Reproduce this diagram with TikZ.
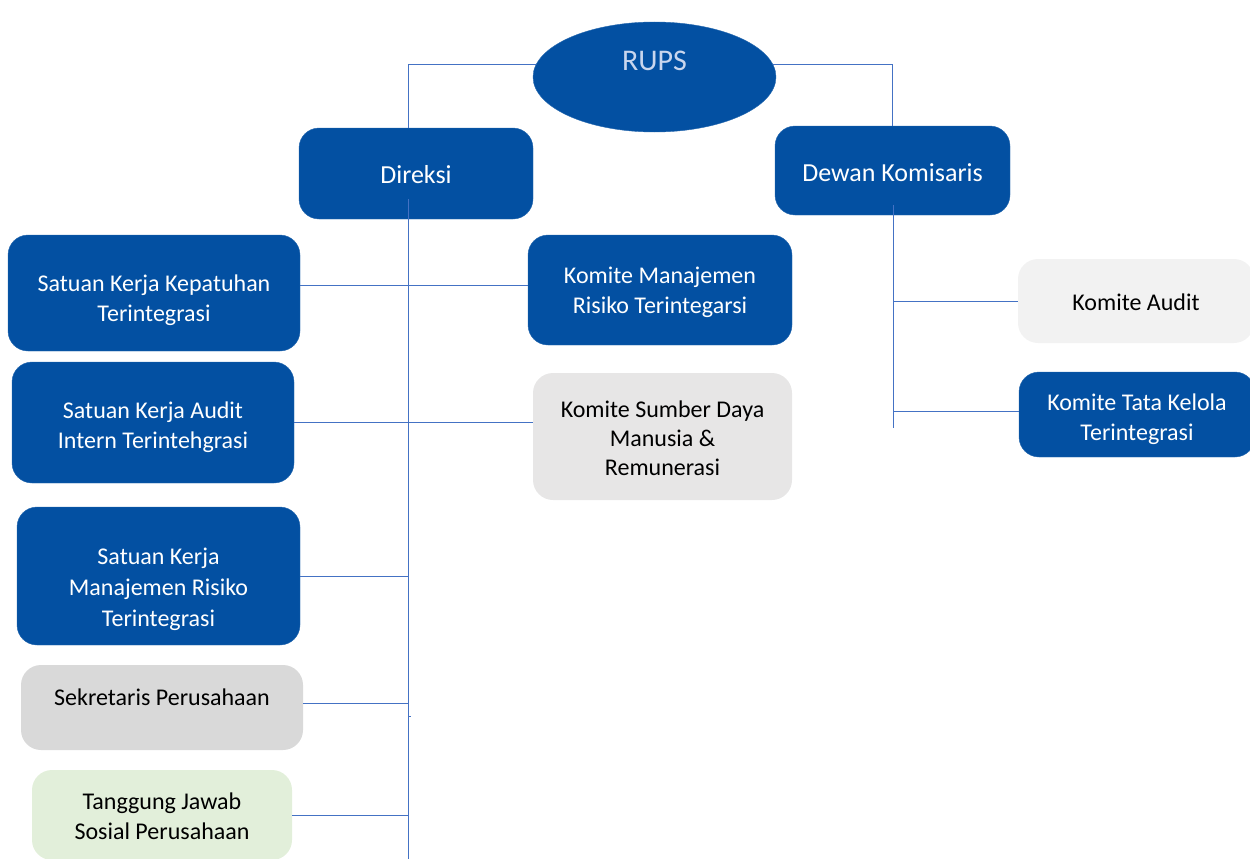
\documentclass[tikz,border=0pt]{standalone}
\usepackage{fontspec}
\setmainfont{Carlito}
\usetikzlibrary{shapes.geometric}
\definecolor{orgblue}{HTML}{0350A2}
\definecolor{linkblue}{HTML}{4472C4}
\definecolor{rupstext}{HTML}{C9D6EE}
\definecolor{sekgrey}{HTML}{D9D9D9}
\definecolor{sdmgrey}{HTML}{E7E6E6}
\definecolor{auditgrey}{HTML}{F2F2F2}
\definecolor{csrgreen}{HTML}{E2EFDA}
% text block moved up/down inside its box
\newcommand{\boxtext}[2]{\raisebox{#1}[0pt][0pt]{\begin{tabular}{@{}c@{}}#2\end{tabular}}}

\begin{document}
\begin{tikzpicture}[x=1pt,y=-1pt,
        box/.style={rectangle, rounded corners=20pt, align=center, inner sep=0pt,
            font=\fontsize{24}{30}\selectfont},
        bluebox/.style={box, fill=orgblue, draw=orgblue!85!white, text=white},
        greybox/.style={box, fill=#1, text=black},
        link/.style={draw=linkblue, line width=1pt}]
    \useasboundingbox (0,0) rectangle (1250,859);

    % top level
    \node[ellipse, fill=orgblue, draw=orgblue!85!white, text=rupstext, minimum width=243,
        minimum height=110, inner sep=0pt, font=\fontsize{30}{30}\selectfont]
        (rups) at (654.5,77) {\boxtext{6.5pt}{RUPS}};
    \node[bluebox, minimum width=234, minimum height=91, font=\fontsize{26}{30}\selectfont]
        (direksi) at (416,173.5) {\boxtext{-10pt}{Direksi}};
    \node[bluebox, minimum width=235, minimum height=89, font=\fontsize{26}{30}\selectfont]
        (dewan) at (892.5,170.5) {\boxtext{-11pt}{Dewan Komisaris}};

    % under Direksi, left
    \node[bluebox, minimum width=292, minimum height=116] (skk) at (154,293)
        {\boxtext{-14pt}{Satuan Kerja Kepatuhan\\Terintegrasi}};
    \node[bluebox, minimum width=282, minimum height=121] (ska) at (153,422.5)
        {\boxtext{-11.5pt}{Satuan Kerja Audit\\Intern Terintehgrasi}};
    \node[bluebox, minimum width=283, minimum height=138, font=\fontsize{24}{31}\selectfont]
        (skmr) at (158.5,576)
        {\boxtext{-20pt}{Satuan Kerja\\Manajemen Risiko\\Terintegrasi}};
    \node[greybox=sekgrey, minimum width=282, minimum height=85] (sek) at (162,707.5)
        {\boxtext{1.5pt}{Sekretaris Perusahaan}};
    \node[greybox=csrgreen, minimum width=260, minimum height=90] (tjsp) at (162,815)
        {\boxtext{-10pt}{Tanggung Jawab\\Sosial Perusahaan}};

    % under Direksi, right
    \node[bluebox, minimum width=264, minimum height=110] (kmr) at (660,290)
        {\boxtext{-9pt}{Komite Manajemen\\Risiko Terintegarsi}};
    \node[greybox=sdmgrey, minimum width=259, minimum height=127, font=\fontsize{24}{29}\selectfont]
        (ksdm) at (662.5,436.5)
        {\boxtext{-10.5pt}{Komite Sumber Daya\\Manusia \&\\Remunerasi}};

    % under Dewan Komisaris
    \node[greybox=auditgrey, minimum width=236, minimum height=84] (kaudit) at (1136,301)
        {\boxtext{-10pt}{Komite Audit}};
    \node[bluebox, minimum width=236, minimum height=85] (ktk) at (1137,414.5)
        {\boxtext{-11.5pt}{Komite Tata Kelola\\Terintegrasi}};

    % connectors
    \coordinate (dtrunk) at (408,199);
    \coordinate (dbase) at (408,859);
    \coordinate (ktrunk) at (893,205);
    \coordinate (kbase) at (893,428);
    \coordinate (tick) at (411,716);

    \draw[link] (rups.174) -| (direksi.north -| dtrunk);
    \draw[link] (rups.6) -| (dewan.north);
    \draw[link] (dtrunk) -- (dbase);
    \draw[link] (ktrunk) -- (kbase);
    \draw[link] ([yshift=8pt]skk.east) -- ([yshift=8pt]skk.east -| kmr.west);
    \draw[link] (ska.east) -- (ska.east -| ksdm.west);
    \draw[link] (skmr.east) -- (skmr.east -| dtrunk);
    \draw[link] ([yshift=4pt]sek.east) -- ([yshift=4pt]sek.east -| dtrunk);
    \draw[link] (tick -| dtrunk) -- (tick);
    \draw[link] (tjsp.east) -- (tjsp.east -| dtrunk);
    \draw[link] (kaudit.west) -- (kaudit.west -| ktrunk);
    \draw[link] ([yshift=3pt]ktk.west) -- ([yshift=3pt]ktk.west -| ktrunk);
\end{tikzpicture}
\end{document}
